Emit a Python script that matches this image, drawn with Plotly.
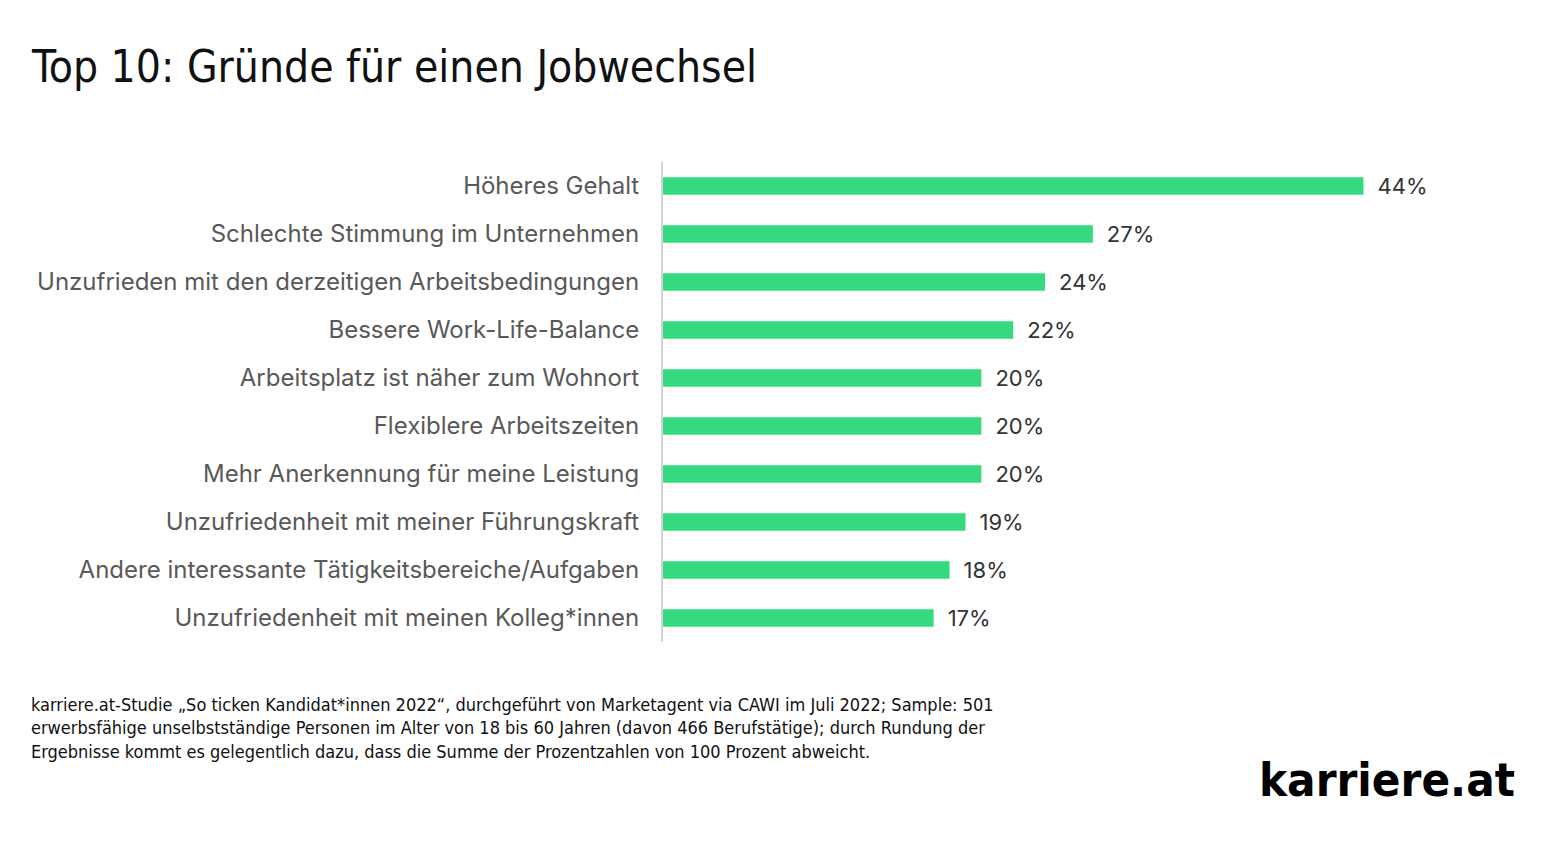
import plotly.graph_objects as go

categories = [
    "Höheres Gehalt",
    "Schlechte Stimmung im Unternehmen",
    "Unzufrieden mit den derzeitigen Arbeitsbedingungen",
    "Bessere Work-Life-Balance",
    "Arbeitsplatz ist näher zum Wohnort",
    "Flexiblere Arbeitszeiten",
    "Mehr Anerkennung für meine Leistung",
    "Unzufriedenheit mit meiner Führungskraft",
    "Andere interessante Tätigkeitsbereiche/Aufgaben",
    "Unzufriedenheit mit meinen Kolleg*innen",
]
values = [44, 27, 24, 22, 20, 20, 20, 19, 18, 17]

title_text = "Top 10: Gründe für einen Jobwechsel"
footnote = ("karriere.at-Studie „So ticken Kandidat*innen 2022“, durchgeführt von Marketagent via CAWI im Juli 2022; Sample: 501<br>"
            "erwerbsfähige unselbstständige Personen im Alter von 18 bis 60 Jahren (davon 466 Berufstätige); durch Rundung der<br>"
            "Ergebnisse kommt es gelegentlich dazu, dass die Summe der Prozentzahlen von 100 Prozent abweicht.")
logo = "karriere.at"

# layout geometry (figure coordinates; page offset of 8px compensated)
OFF = 8
L, T, W, H = 655, 154, 796, 480
FW, FH = 1561, 856


def px(X):
    return (X - OFF - L) / W


def py(Y):
    return 1 - (Y - OFF - T) / H


fig = go.Figure(go.Bar(
    x=values,
    y=categories,
    orientation="h",
    marker=dict(color="#34DA7D", line=dict(width=0)),
    width=0.36,
    text=[f"\u2002{v}%" for v in values],
    textposition="outside",
    constraintext="none",
    cliponaxis=False,
    textfont=dict(family="Inter, Roboto, sans-serif", size=22, color="#333333"),
))

fig.update_layout(
    width=FW, height=FH,
    margin=dict(l=L, r=FW - L - W, t=T, b=FH - T - H, pad=0),
    paper_bgcolor="white", plot_bgcolor="white",
    showlegend=False,
    xaxis=dict(range=[0, 50], visible=False, fixedrange=True),
    yaxis=dict(
        autorange="reversed",
        showline=True, linecolor="#d3d3d3", linewidth=2,
        showgrid=False, zeroline=False,
        ticks="", ticklabelstandoff=17,
        tickfont=dict(family="Inter, Roboto, sans-serif", size=24, color="#595959"),
    ),
)

fig.add_annotation(
    text=title_text, xref="paper", yref="paper", x=px(29), y=py(66),
    xanchor="left", yanchor="middle", showarrow=False,
    font=dict(family="DejaVu Sans Condensed, sans-serif", size=44, color="#111111"),
)
fig.add_annotation(
    text=footnote, xref="paper", yref="paper", x=px(29), y=py(728),
    xanchor="left", yanchor="middle", showarrow=False, align="left",
    font=dict(family="DejaVu Sans Condensed, sans-serif", size=18, color="#111111"),
)
fig.add_annotation(
    text=f"<b>{logo}</b>", xref="paper", yref="paper", x=px(1517), y=py(779),
    xanchor="right", yanchor="middle", showarrow=False,
    font=dict(family="DejaVu Sans Condensed, sans-serif", size=47, color="#000000"),
)

fig.write_html("out.html")
